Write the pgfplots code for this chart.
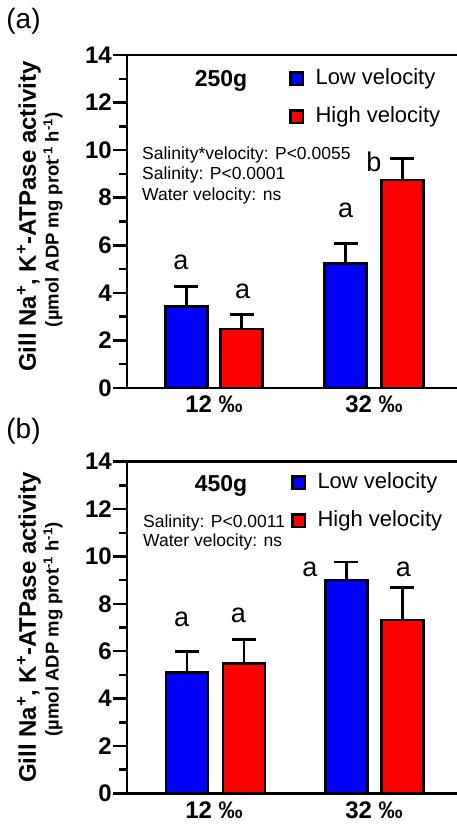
\documentclass[border=0pt]{standalone}
\usepackage{pgfplots}
\pgfplotsset{compat=1.18}
\usepackage{fontspec}
\setmainfont{Liberation Sans}
\newcommand{\fs}[1]{\fontsize{#1bp}{#1bp}\selectfont}
\definecolor{barblue}{RGB}{0,0,255}
\definecolor{barred}{RGB}{255,0,0}

\tikzset{
  stat/.style={font=\fs{17.5}, anchor=base west, inner sep=0pt},
  letter/.style={font=\fs{27}, anchor=base, inner sep=0pt},
}
\pgfplotsset{
  panel/.style={
    scale only axis, width=330bp,
    xmin=-0.54375, xmax=1.51875, ymin=0, ymax=14,
    axis x line*=bottom, axis y line*=left,
    axis line style={line width=2.5bp, -},
    clip=false,
    ytick={0,2,...,14}, minor ytick={1,3,...,13},
    tick align=outside, major tick length=14bp, minor tick length=8bp,
    tick style={black, line width=2.5bp},
    xtick={0,1}, xticklabels={12 ‰,32 ‰},
    xtick style={draw=none},
    /pgf/number format/assume math mode=true,
    yticklabel style={font=\fs{24}\bfseries, inner sep=1bp},
    xticklabel style={font=\fs{24}\bfseries, inner sep=0pt, yshift=6bp},
    extra description/.code={\draw[line width=2.5bp, line cap=rect] (0,1) -- (1,1);},
    legend style={draw=none, fill=none, inner sep=0pt, outer sep=0pt,
      row sep=17bp, column sep=11.5bp, font=\fs{22},
      nodes={inner sep=0pt, text height=16bp, text depth=5bp}},
    legend cell align=left,
    legend image code/.code={\draw[#1, draw=black, line width=2.5bp] (1.25bp,-5.75bp) rectangle (13.75bp,6.75bp);},
  },
  barsty/.style={ybar, bar width=0.2625, bar shift=0pt, draw=black, line width=2.5bp, forget plot,
    error bars/y dir=plus, error bars/y explicit,
    error bars/error bar style={line width=2.5bp, black},
    error bars/error mark options={rotate=90, mark size=12bp, line width=2.5bp, black}},
}

\begin{document}
\begin{tikzpicture}
% ---------------- panel (a)
\begin{axis}[panel, height=333bp, at={(127bp,-388bp)}, anchor=south west,
  legend style={at={(0.491,0.958)}, anchor=north west}]
\addplot[barsty, fill=barblue] coordinates {(-0.172,3.42) +- (0,0.84) (0.822,5.24) +- (0,0.84)};
\addplot[barsty, fill=barred] coordinates {(0.172,2.48) +- (0,0.62) (1.178,8.74) +- (0,0.90)};
\addlegendimage{fill=barblue}\addlegendentry{Low velocity}
\addlegendimage{fill=barred}\addlegendentry{High velocity}
\node[font=\fs{23}\bfseries, anchor=base] at (axis cs:0.044,12.69) {250g};
\node[stat] at (axis cs:-0.45,9.626) {Salinity*velocity: P<0.0055};
\node[stat] at (axis cs:-0.45,8.785) {Salinity: P<0.0001};
\node[stat] at (axis cs:-0.45,7.90) {Water velocity: ns};
\node[letter] at (axis cs:-0.2075,5.00) {a};
\node[letter] at (axis cs:0.179,3.78) {a};
\node[letter] at (axis cs:0.823,7.15) {a};
\node[letter] at (axis cs:1.0,9.09) {b};
\node[font=\fs{24}\bfseries, rotate=90] at (rel axis cs:-0.297,0.515) {Gill Na\textsuperscript{+}, K\textsuperscript{+}-ATPase activity};
\node[font=\fs{18.5}\bfseries, rotate=90] at (rel axis cs:-0.224,0.505) {(µmol ADP mg prot\textsuperscript{-1} h\textsuperscript{-1})};
\end{axis}
\node[font=\fs{28}] at (23.5bp,-21bp) {(a)};
% ---------------- panel (b)
\begin{axis}[panel, height=331.6bp, at={(127bp,-793.3bp)}, anchor=south west,
  legend style={at={(0.497,0.966)}, anchor=north west}]
\addplot[barsty, fill=barblue] coordinates {(-0.169,5.09) +- (0,0.89) (0.828,9.00) +- (0,0.77)};
\addplot[barsty, fill=barred] coordinates {(0.1875,5.49) +- (0,1.01) (1.178,7.31) +- (0,1.37)};
\addlegendimage{fill=barblue}\addlegendentry{Low velocity}
\addlegendimage{fill=barred}\addlegendentry{High velocity}
\node[font=\fs{23}\bfseries, anchor=base] at (axis cs:0.044,12.73) {450g};
\node[stat] at (axis cs:-0.444,11.24) {Salinity: P<0.0011};
\node[stat] at (axis cs:-0.444,10.40) {Water velocity: ns};
\node[letter] at (axis cs:-0.202,7.03) {a};
\node[letter] at (axis cs:0.152,7.23) {a};
\node[letter] at (axis cs:0.6,9.14) {a};
\node[letter] at (axis cs:1.183,9.14) {a};
\node[font=\fs{24}\bfseries, rotate=90] at (rel axis cs:-0.297,0.5) {Gill Na\textsuperscript{+}, K\textsuperscript{+}-ATPase activity};
\node[font=\fs{18.5}\bfseries, rotate=90] at (rel axis cs:-0.224,0.495) {(µmol ADP mg prot\textsuperscript{-1} h\textsuperscript{-1})};
\end{axis}
\node[font=\fs{28}] at (23.5bp,-431.5bp) {(b)};
\pgfresetboundingbox
\path[use as bounding box] (0,0) rectangle (457bp,-824bp);
\end{tikzpicture}
\end{document}
